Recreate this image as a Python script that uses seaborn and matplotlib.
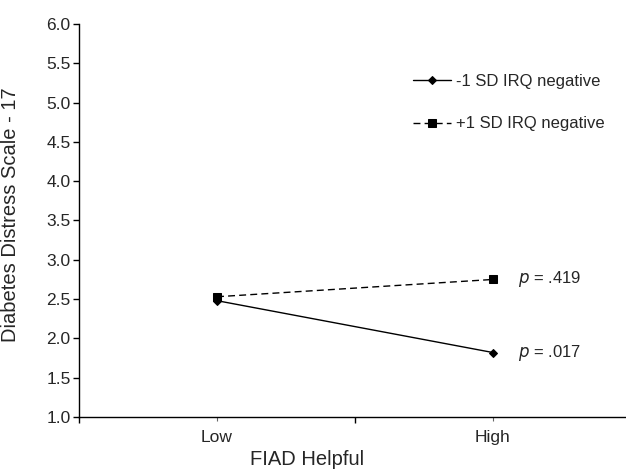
import matplotlib
matplotlib.use('Agg')
from matplotlib import pyplot as plt
import seaborn as sns
import pandas as pd

# values
levels = ['Low', 'High']
minus_sd = [2.48, 1.82]
plus_sd = [2.53, 2.75]
series_names = ['-1 SD IRQ negative', '+1 SD IRQ negative']
p_labels = ['p = .017', 'p = .419']

df = pd.DataFrame({
    'FIAD': levels * 2,
    'DDS': minus_sd + plus_sd,
    'Group': [series_names[0]] * 2 + [series_names[1]] * 2,
})

sns.set_style('white')
plt.rcParams['font.family'] = ['Liberation Sans', 'DejaVu Sans']

fig = plt.figure(figsize=(6.26, 4.69), dpi=100)
# axis runs past the right edge, like the original
ax = fig.add_axes([79 / 626, 52 / 469, 552 / 626, 393 / 469])

sns.lineplot(data=df, x='FIAD', y='DDS', style='Group', ax=ax,
             color='black', linewidth=1,
             markers={series_names[0]: 'D', series_names[1]: 's'},
             dashes={series_names[0]: '', series_names[1]: (5, 3)},
             markeredgecolor='black', sort=False)
for line in ax.lines:
    if line.get_marker() == 'D':
        line.set_markersize(4.2)
    else:
        line.set_markersize(6)

ax.set_xlim(-0.5, 1.5)
ax.set_ylim(1, 6)
ax.set_yticks([1 + 0.5 * i for i in range(11)])
ax.set_yticklabels([f'{1 + 0.5 * i:.1f}' for i in range(11)], fontsize=12.5)
ax.set_xticks([0, 1])
ax.set_xticklabels(levels, fontsize=12.5)
ax.set_xticks([-0.5, 0.5, 1.5], minor=True)
ax.tick_params(axis='x', which='major', direction='out', length=3, width=0.8,
               color='#666666', bottom=True, pad=6)
ax.tick_params(axis='x', which='minor', direction='out', length=4, width=1,
               color='black', bottom=True)
ax.tick_params(axis='y', direction='out', length=4.5, width=1, color='black',
               left=True, pad=1.5)

for sp in ['top', 'right']:
    ax.spines[sp].set_visible(False)
for sp in ['left', 'bottom']:
    ax.spines[sp].set_color('black')
    ax.spines[sp].set_linewidth(1)

ax.set_xlabel('FIAD Helpful', fontsize=14.5)
ax.set_ylabel('Diabetes Distress Scale - 17', fontsize=14.5)
ax.xaxis.set_label_coords(0.4123, -0.083)
ax.yaxis.set_label_coords(-0.1065, 0.515)

# p-value annotations next to the High points
for val, lab in zip([minus_sd[1], plus_sd[1]], p_labels):
    ax.annotate('$p$' + lab[1:], xy=(1, val), xytext=(18, 0),
                textcoords='offset points', va='center', fontsize=12)

leg = ax.legend(loc='upper left', bbox_to_anchor=(0.593, 0.89), frameon=False,
                fontsize=12, handlelength=2.3, labelspacing=1.65, handletextpad=0.25,
                borderaxespad=0)

plt.savefig('out.png', dpi=100)
